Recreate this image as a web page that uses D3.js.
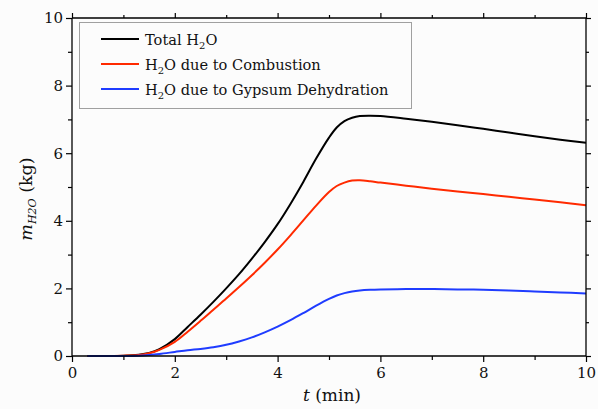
<!doctype html>
<html>
  <head>
    <script src="https://cdn.jsdelivr.net/npm/d3@7/dist/d3.min.js"></script>
    <style>
      body, html {
        margin: 0;
        background: #fcfcfc;
      }
      svg {
        display: block;
        font-family: "DejaVu Serif", "Liberation Serif", serif;
      }
      .frame line {
        stroke: black;
        stroke-width: 1.3px;
      }
      .tick line {
        stroke: black;
        stroke-width: 1.2px;
      }
      .tick text {
        font-size: 15px;
        fill: #111;
      }
      path.series {
        fill: none;
        stroke-width: 2px;
      }
    </style>
  </head>
  <body>
    <svg width="598" height="409"></svg>
    <script>

      var time = [0.3, 1.0, 1.3, 1.5, 1.7, 2.0, 2.25, 2.5, 2.75, 3.0, 3.25, 3.5, 3.75, 4.0, 4.25,
        4.5, 4.75, 5.0, 5.15, 5.3, 5.45, 5.6, 5.8, 6.0, 6.5, 7.0, 7.5, 8.0, 8.5, 9.0, 9.5, 10];

      var totalWater = [0, 0.01, 0.04, 0.09, 0.2, 0.5, 0.86, 1.22, 1.6, 2.0, 2.42, 2.88, 3.37, 3.9, 4.5,
        5.15, 5.84, 6.46, 6.76, 6.95, 7.05, 7.1, 7.11, 7.1, 7.02, 6.93, 6.83, 6.72, 6.61, 6.5, 6.4, 6.31];

      var combustionWater = [0, 0.01, 0.03, 0.08, 0.18, 0.42, 0.72, 1.04, 1.37, 1.7, 2.04, 2.39, 2.76, 3.15, 3.57,
        4.01, 4.45, 4.85, 5.03, 5.13, 5.19, 5.2, 5.17, 5.13, 5.04, 4.95, 4.87, 4.79, 4.71, 4.63, 4.55, 4.46];

      var gypsumWater = [0, 0, 0.01, 0.03, 0.06, 0.12, 0.17, 0.21, 0.26, 0.33, 0.43, 0.55, 0.7, 0.87, 1.06,
        1.27, 1.49, 1.69, 1.79, 1.86, 1.91, 1.94, 1.96, 1.97, 1.98, 1.98, 1.97, 1.96, 1.94, 1.91, 1.88, 1.85];

      var seriesNames = ["Total H|2|O", "H|2|O due to Combustion", "H|2|O due to Gypsum Dehydration"];
      var seriesColors = ["#000000", "#ff2a00", "#1f3cff"];

      var xTicks = [0, 2, 4, 6, 8, 10];
      var yTicks = [0, 2, 4, 6, 8, 10];

      var plotL = 72, plotR = 586, plotT = 18, plotB = 356;

      var svg = d3.select("svg");

      var x = d3.scaleLinear().domain([0, 10]).range([plotL, plotR]);
      var y = d3.scaleLinear().domain([0, 10]).range([plotB, plotT]);

      var minorX = d3.range(1, 10, 2);
      var minorY = d3.range(1, 10, 2);

      // lines first, frame on top
      var line = d3.line()
        .x((d, i) => x(time[i]))
        .y(d => y(d))
        .curve(d3.curveCatmullRom.alpha(0.5));

      [totalWater, combustionWater, gypsumWater].forEach((vals, i) => {
        svg.append("path")
          .attr("class", "series")
          .attr("stroke", seriesColors[i])
          .attr("d", line(vals));
      });

      // axes: labelled bottom/left, bare top/right
      svg.append("g").attr("transform", `translate(0,${plotB})`)
        .call(d3.axisBottom(x).tickValues(xTicks).tickSize(6).tickPadding(5).tickFormat(d3.format("d")));
      svg.append("g").attr("transform", `translate(${plotL},0)`)
        .call(d3.axisLeft(y).tickValues(yTicks).tickSize(6).tickPadding(3).tickFormat(d3.format("d")));
      svg.append("g").attr("transform", `translate(0,${plotT})`)
        .call(d3.axisTop(x).tickValues(xTicks).tickSize(5).tickFormat(""));
      svg.append("g").attr("transform", `translate(${plotR},0)`)
        .call(d3.axisRight(y).tickValues(yTicks).tickSize(5).tickFormat(""));

      svg.append("g").attr("transform", `translate(0,${plotB})`)
        .call(d3.axisBottom(x).tickValues(minorX).tickSize(4).tickFormat(""));
      svg.append("g").attr("transform", `translate(${plotL},0)`)
        .call(d3.axisLeft(y).tickValues(minorY).tickSize(4).tickFormat(""));
      svg.append("g").attr("transform", `translate(0,${plotT})`)
        .call(d3.axisTop(x).tickValues(minorX).tickSize(3).tickFormat(""));
      svg.append("g").attr("transform", `translate(${plotR},0)`)
        .call(d3.axisRight(y).tickValues(minorY).tickSize(3).tickFormat(""));

      svg.selectAll(".domain").remove();
      svg.selectAll("g").attr("font-family", null).attr("font-size", null);

      var frame = svg.append("g").attr("class", "frame");
      frame.append("line").attr("x1", plotL).attr("x2", plotR).attr("y1", plotB).attr("y2", plotB);
      frame.append("line").attr("x1", plotL).attr("x2", plotR).attr("y1", plotT).attr("y2", plotT);
      frame.append("line").attr("x1", plotL).attr("x2", plotL).attr("y1", plotT).attr("y2", plotB);
      frame.append("line").attr("x1", plotR).attr("x2", plotR).attr("y1", plotT).attr("y2", plotB);

      // writes "a|sub|b" as text with a lowered subscript
      function richText(sel, str, subSize) {
        var parts = str.split("|");
        parts.forEach((p, i) => {
          var t = sel.append("tspan").text(p);
          if (i % 2 == 1) t.attr("font-size", subSize).attr("dy", 4);
          else if (i > 0) t.attr("dy", -4);
        });
      }

      // legend
      var legend = svg.append("g");
      legend.append("rect")
        .attr("x", 79.5).attr("y", 22.5)
        .attr("width", 332).attr("height", 86)
        .attr("fill", "#fcfcfc")
        .attr("stroke", "#a0a0a0")
        .attr("stroke-width", 1);

      seriesNames.forEach((name, i) => {
        var ly = 39 + i * 25;
        legend.append("line")
          .attr("x1", 101).attr("x2", 139)
          .attr("y1", ly).attr("y2", ly)
          .attr("stroke", seriesColors[i])
          .attr("stroke-width", 2);
        var t = legend.append("text")
          .attr("x", 145).attr("y", ly + 6)
          .attr("font-size", 14.6)
          .attr("fill", "#111");
        richText(t, name, 10);
      });

      // axis titles
      var xt = svg.append("text")
        .attr("x", 332).attr("y", 401)
        .attr("text-anchor", "middle")
        .attr("font-size", 17)
        .attr("fill", "#111");
      xt.append("tspan").attr("font-style", "italic").text("t");
      xt.append("tspan").text(" (min)");

      var yt = svg.append("text")
        .attr("transform", "translate(32,199) rotate(-90)")
        .attr("text-anchor", "middle")
        .attr("font-size", 17.5)
        .attr("fill", "#111");
      yt.append("tspan").attr("font-style", "italic").text("m");
      yt.append("tspan").attr("font-style", "italic").attr("font-size", 11).attr("dy", 4).text("H2O");
      yt.append("tspan").attr("dy", -4).text(" (kg)");

    </script>
  </body>
</html>
